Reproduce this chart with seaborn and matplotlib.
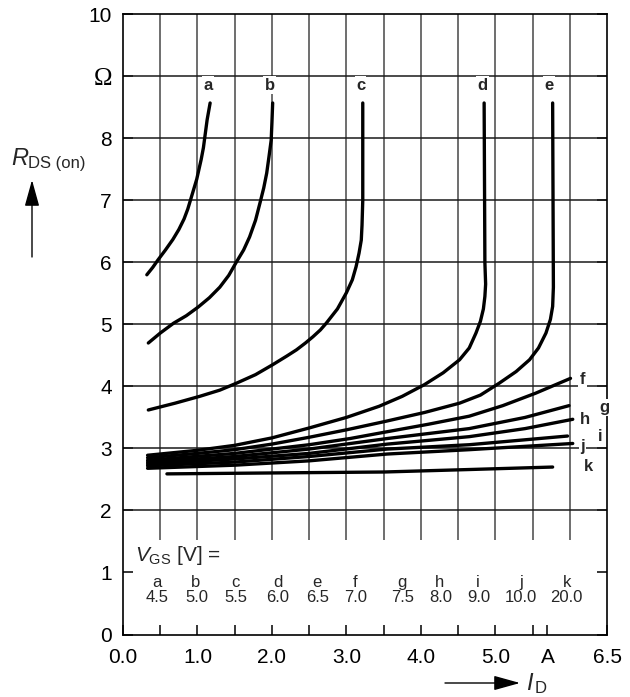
import numpy as np
import matplotlib
matplotlib.use('Agg')
import matplotlib.pyplot as plt
import seaborn as sns
import pandas as pd

# drain current I_D [A] and on-resistance R_DS(on) [Ohm], one pair per V_GS curve
I_a = [0.32, 0.40, 0.47, 0.57, 0.67, 0.75, 0.82, 0.87, 0.91, 0.95, 0.99, 1.02, 1.05, 1.08,
       1.10, 1.13, 1.17]
R_a = [5.80, 5.92, 6.04, 6.20, 6.37, 6.53, 6.70, 6.86, 7.02, 7.18, 7.34, 7.50, 7.66, 7.85,
       8.03, 8.30, 8.57]
I_b = [0.34, 0.50, 0.68, 0.85, 1.01, 1.16, 1.30, 1.42, 1.52, 1.62, 1.70, 1.78, 1.84, 1.89,
       1.93, 1.96, 1.99, 2.00, 2.01]
R_b = [4.70, 4.86, 5.02, 5.14, 5.28, 5.43, 5.60, 5.79, 6.00, 6.20, 6.41, 6.68, 6.96, 7.20,
       7.44, 7.70, 7.97, 8.25, 8.57]
I_c = [0.34, 0.70, 1.03, 1.30, 1.52, 1.78, 2.01, 2.20, 2.33, 2.45, 2.55, 2.65, 2.73, 2.88,
       3.00, 3.08, 3.13, 3.17, 3.20, 3.21, 3.22, 3.22]
R_c = [3.62, 3.73, 3.84, 3.94, 4.05, 4.19, 4.35, 4.49, 4.59, 4.70, 4.80, 4.91, 5.02, 5.25,
       5.51, 5.72, 5.93, 6.15, 6.36, 6.60, 7.00, 8.57]
I_d = [0.33, 1.0, 1.5, 2.0, 2.5, 3.0, 3.44, 3.75, 4.05, 4.30, 4.52, 4.65, 4.74, 4.80, 4.84,
       4.86, 4.87, 4.86, 4.85]
R_d = [2.89, 2.97, 3.05, 3.17, 3.33, 3.50, 3.68, 3.84, 4.03, 4.22, 4.43, 4.62, 4.86, 5.05, 5.25,
       5.45, 5.65, 6.00, 8.57]
I_e = [0.33, 1.0, 1.5, 2.0, 2.5, 3.0, 3.5, 4.05, 4.52, 4.80, 5.05, 5.28, 5.46, 5.58, 5.68,
       5.74, 5.77, 5.78, 5.77]
R_e = [2.85, 2.92, 2.98, 3.07, 3.18, 3.30, 3.43, 3.58, 3.73, 3.86, 4.05, 4.24, 4.43, 4.62, 4.86,
       5.08, 5.29, 5.60, 8.57]
I_f = [0.33, 1.5, 2.5, 3.05, 3.55, 4.10, 4.65, 5.10, 5.54, 6.01]
R_f = [2.81, 2.92, 3.06, 3.16, 3.27, 3.39, 3.52, 3.69, 3.89, 4.13]
I_g = [0.33, 1.5, 2.5, 3.55, 4.65, 5.40, 5.99]
R_g = [2.78, 2.87, 2.99, 3.16, 3.32, 3.50, 3.69]
I_h = [0.33, 1.5, 2.5, 3.55, 4.65, 5.40, 6.04]
R_h = [2.75, 2.83, 2.92, 3.07, 3.19, 3.32, 3.47]
I_i = [0.33, 1.5, 2.5, 3.55, 4.65, 5.97]
R_i = [2.72, 2.78, 2.87, 2.99, 3.06, 3.20]
I_j = [0.33, 1.5, 2.5, 3.55, 4.65, 6.04]
R_j = [2.68, 2.73, 2.80, 2.91, 2.98, 3.08]
I_k = [0.59, 2.5, 3.5, 4.65, 5.77]
R_k = [2.59, 2.61, 2.62, 2.66, 2.70]

curve_names = list('abcdefghijk')
vgs_values = ['4.5', '5.0', '5.5', '6.0', '6.5', '7.0', '7.5', '8.0', '9.0', '10.0', '20.0']
x_ticklabels = ['0.0', '', '1.0', '', '2.0', '', '3.0', '', '4.0', '', '5.0', '', 'A', '6.5']
y_ticklabels = ['0', '1', '2', '3', '4', '5', '6', '7', '8', '\u03a9', '10']

curves = [(I_a, R_a), (I_b, R_b), (I_c, R_c), (I_d, R_d), (I_e, R_e), (I_f, R_f),
          (I_g, R_g), (I_h, R_h), (I_i, R_i), (I_j, R_j), (I_k, R_k)]
df = pd.concat([pd.DataFrame({'I_D': i, 'R': r, 'curve': n})
                for n, (i, r) in zip(curve_names, curves)], ignore_index=True)

sns.set_style('white')
plt.rcParams['font.family'] = ['Liberation Sans', 'DejaVu Sans']
plt.rcParams['mathtext.fontset'] = 'custom'
plt.rcParams['mathtext.rm'] = 'Liberation Sans'
plt.rcParams['mathtext.it'] = 'Liberation Sans:italic'

W, H = 630, 697
fig = plt.figure(figsize=(W / 100, H / 100), dpi=100)
ax = fig.add_axes([123 / W, 62.5 / H, 484 / W, 620.2 / H])

# grid (vertical lines stop above the V_GS table)
ax.vlines(np.arange(0.5, 6.5, 0.5), 1.53, 10, color='#555555', lw=1.2, zorder=1)
ax.hlines(np.arange(2, 10), 0, 6.5, color='#1a1a1a', lw=1.1, zorder=1)

sns.lineplot(data=df, x='I_D', y='R', units='curve', estimator=None, sort=False,
             color='black', lw=2.4, solid_capstyle='round', solid_joinstyle='round',
             ax=ax, zorder=3)

ax.set_xlim(0, 6.5)
ax.set_ylim(0, 10)
ax.set_xlabel('')
ax.set_ylabel('')
ax.set_xticks([0, 0.5, 1, 1.5, 2, 2.5, 3, 3.5, 4, 4.5, 5, 5.5, 5.7, 6.5])
ax.set_xticklabels(x_ticklabels)
ax.xaxis.get_major_ticks()[12].tick1line.set_visible(False)
ax.set_yticks(range(11))
ax.set_yticklabels(y_ticklabels)
ax.tick_params(axis='both', direction='in', length=7, width=1.1, labelsize=15,
               colors='black')
ax.tick_params(axis='x', bottom=True, top=False, pad=10)
ax.tick_params(axis='y', left=True, right=True, pad=8)
omega = ax.get_yticklabels()[9]
omega.set_fontfamily('Liberation Serif')
omega.set_fontsize(18)
for s in ax.spines.values():
    s.set_color('black')
    s.set_linewidth(1.2)

box = dict(facecolor='white', edgecolor='none', pad=1)
top_labels = {'a': 1.14, 'b': 1.97, 'c': 3.19, 'd': 4.83, 'e': 5.72}
for n, xx in top_labels.items():
    ax.text(xx, 8.86, n, ha='center', va='center', fontsize=12, fontweight='bold',
            bbox=box, zorder=4)
side_labels = {'f': (6.17, 4.11), 'g': (6.46, 3.66), 'h': (6.21, 3.47),
               'i': (6.41, 3.19), 'j': (6.17, 3.03), 'k': (6.25, 2.71)}
for n, (xx, yy) in side_labels.items():
    ax.text(xx, yy, n, ha='center', va='center', fontsize=12, fontweight='bold',
            bbox=box, zorder=4)

# V_GS table
ax.text(0.16, 1.28, r'$V_{\mathrm{GS}}$ [V] =', ha='left', va='center', fontsize=15)
letter_x = [0.45, 0.98, 1.51, 2.08, 2.61, 3.12, 3.74, 4.25, 4.76, 5.35, 5.97]
value_x = [0.46, 0.99, 1.51, 2.08, 2.62, 3.13, 3.75, 4.27, 4.78, 5.35, 5.96]
for n, v, lx, vx in zip(curve_names, vgs_values, letter_x, value_x):
    ax.text(lx, 0.84, n, ha='center', va='center', fontsize=12)
    ax.text(vx, 0.59, v, ha='center', va='center', fontsize=12)

# axis titles with arrows
arrow = dict(arrowstyle='-|>,head_length=0.9,head_width=0.25', color='black',
             lw=1.0, mutation_scale=18, shrinkA=0, shrinkB=0)
fig.text(11 / W, 1 - 165 / H, 'R', style='italic', fontsize=17, va='baseline')
fig.text(28 / W, 1 - 168 / H, 'DS (on)', fontsize=12, va='baseline')
ax.annotate('', xy=(32 / W, 1 - 180 / H), xytext=(32 / W, 1 - 257 / H),
            xycoords='figure fraction', textcoords='figure fraction', arrowprops=arrow)
ax.annotate('', xy=(520 / W, 1 - 683 / H), xytext=(445 / W, 1 - 683 / H),
            xycoords='figure fraction', textcoords='figure fraction', arrowprops=arrow)
fig.text(526 / W, 1 - 690 / H, 'I', style='italic', fontsize=17, va='baseline')
fig.text(535 / W, 1 - 693 / H, 'D', fontsize=12, va='baseline')

fig.savefig('out.png', dpi=100)
